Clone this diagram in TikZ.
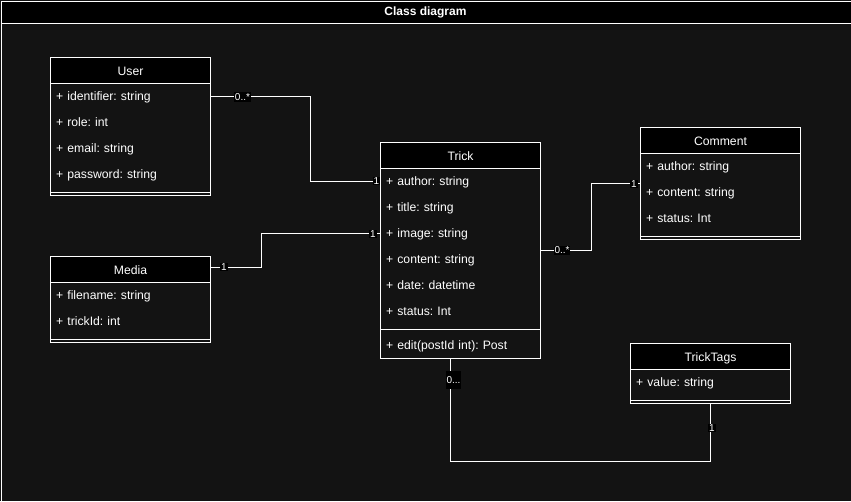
\documentclass[tikz,border=0pt]{standalone}
\usepackage{fontspec}
\setmainfont{Liberation Sans}
\frenchspacing
\definecolor{bg}{RGB}{19,19,19}
\begin{document}
\begin{tikzpicture}[x=1pt,y=-1pt,
  hdr/.style={draw=white, line width=1pt, fill=black, text=white, minimum width=160, minimum height=26, anchor=north west, inner sep=0, text height=11, text depth=2, font=\fontsize{12.2}{14}\selectfont},
  attr/.style={text=white, minimum height=26, text width=148, inner xsep=6, inner ysep=0, anchor=north west, align=left, text height=11, text depth=2, font=\fontsize{12.2}{14}\selectfont},
  classframe/.style={draw=white, line width=1pt, anchor=north west, minimum width=160, inner sep=0, fill=bg},
  conn/.style={draw=white, line width=1pt},
  mult/.style={fill=black, text=white, inner xsep=0.8, inner ysep=1, font=\fontsize{10}{11}\selectfont},
  sepline/.style={draw=white, line width=1pt}]
\useasboundingbox (0,0) rectangle (851,501);
\fill[bg] (0,0) rectangle (851,501);
% outer frame and title
\fill[black] (1,1) rectangle (851,23);
\draw[white, line width=1pt] (1,503) -- (1,1) -- (853,1);
\draw[white, line width=1pt] (1,23) -- (851,23);
\node[text=white, font=\bfseries\fontsize{12}{14}\selectfont] (title) at (425.5,12.5) {Class diagram};

% User
\node[classframe, minimum height=138] (user) at (50,57) {};
\node[hdr] (uhdr) at (50,57) {User};
\node[attr] (uid) at (50,83) {+ identifier: string};
\node[attr] (urole) at (50,109) {+ role: int};
\node[attr] (umail) at (50,135) {+ email: string};
\node[attr] (upass) at (50,161) {+ password: string};
\draw[sepline] ([yshift=4pt]user.south west) -- ([yshift=4pt]user.south east);

% Media
\node[classframe, minimum height=86] (media) at (50,256) {};
\node[hdr] (mhdr) at (50,256) {Media};
\node[attr] (mfile) at (50,282) {+ filename: string};
\node[attr] (mtrick) at (50,308) {+ trickId: int};
\draw[sepline] ([yshift=4pt]media.south west) -- ([yshift=4pt]media.south east);

% Trick
\node[classframe, minimum height=216] (trick) at (380,142) {};
\node[hdr] (thdr) at (380,142) {Trick};
\node[attr] (tauthor) at (380,168) {+ author: string};
\node[attr] (ttitle) at (380,194) {+ title: string};
\node[attr] (timage) at (380,220) {+ image: string};
\node[attr] (tcontent) at (380,246) {+ content: string};
\node[attr] (tdate) at (380,272) {+ date: datetime};
\node[attr] (tstatus) at (380,298) {+ status: Int};
\draw[sepline] ([yshift=30pt]trick.south west) -- ([yshift=30pt]trick.south east);
\node[attr] (tedit) at (380,332) {+ edit(postId int): Post};

% Comment
\node[classframe, minimum height=112] (comment) at (640,127) {};
\node[hdr] (chdr) at (640,127) {Comment};
\node[attr] (cauthor) at (640,153) {+ author: string};
\node[attr] (ccontent) at (640,179) {+ content: string};
\node[attr] (cstatus) at (640,205) {+ status: Int};
\draw[sepline] ([yshift=4pt]comment.south west) -- ([yshift=4pt]comment.south east);

% TrickTags
\node[classframe, minimum height=60] (tags) at (630,343) {};
\node[hdr] (ghdr) at (630,343) {TrickTags};
\node[attr] (gvalue) at (630,369) {+ value: string};
\draw[sepline] ([yshift=4pt]tags.south west) -- ([yshift=4pt]tags.south east);

% connectors
\draw[conn] (uid.east) -- ++(100,0) |- (tauthor.west);
\draw[conn] ([yshift=2pt]mhdr.east) -- ++(50,0) |- (timage.west);
\draw[conn] (trick.east) -- ++(50,0) |- (comment.west);
\draw[conn] ([xshift=-10pt]trick.south) -- ++(0,102) -| (tags.south);

% multiplicities
\node[mult] (m1) at (242.5,97) {0..*};
\node[mult] (m2) at (376.5,181) {1};
\node[mult] (m3) at (224,267) {1};
\node[mult] (m4) at (373,234) {1};
\node[mult] (m5) at (562,250.5) {0..*};
\node[mult] (m6) at (634,184) {1};
\node[mult, minimum height=18] (m7) at (453.5,380) {0...};
\node[mult] (m8) at (712,428) {1};
\end{tikzpicture}
\end{document}
